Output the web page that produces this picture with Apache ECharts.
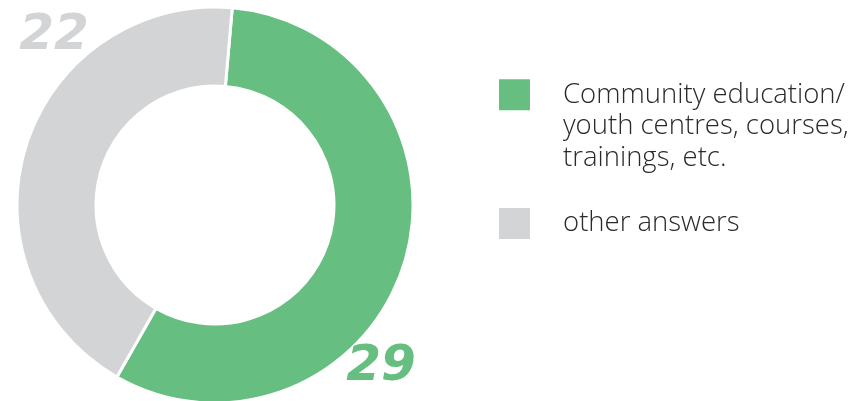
<!DOCTYPE html>
<html>
<head>
<meta charset="utf-8">
<script src="https://cdn.jsdelivr.net/npm/echarts@6/dist/echarts.min.js"></script>
<style>
html,body{margin:0;padding:0;background:#fff;}
#chart{width:857px;height:401px;}
</style>
</head>
<body>
<div id="chart"></div>
<script>
const categories = ['Community education/\nyouth centres, courses,\ntrainings, etc.', 'other answers'];
const values = [29, 22];
const colors = ['#66bf80', '#d3d4d6'];
const labelSpots = [[381, 367], [54, 36]];

const chart = echarts.init(document.getElementById('chart'), null, {renderer: 'canvas'});
const legendFont = 'Open Sans';
const legendIcon = 'path://M0,0H33V33H0Z M60,33';
const legendText = {fontFamily: legendFont, fontSize: 27.5, fontWeight: 300, color: '#2a2a2a', lineHeight: 31.5};
chart.setOption({
  animation: false,
  color: colors,
  legend: [
    {
      left: 497, top: 16, padding: 0, itemWidth: 60, itemHeight: 33,
      icon: legendIcon, selectedMode: false,
      formatter: n => '\n\n' + n,
      data: [categories[0]],
      textStyle: legendText
    },
    {
      left: 497, top: 206, padding: 0, itemWidth: 60, itemHeight: 33,
      icon: legendIcon, selectedMode: false,
      data: [categories[1]],
      textStyle: legendText
    }
  ],
  series: [{
    type: 'pie',
    center: [215, 205],
    radius: [119, 198],
    startAngle: 85,
    clockwise: true,
    silent: true,
    avoidLabelOverlap: false,
    itemStyle: {borderColor: '#fff', borderWidth: 3},
    label: {
      show: true,
      position: 'inside',
      formatter: '{c}',
      fontFamily: 'DejaVu Sans',
      fontStyle: 'italic',
      fontWeight: 'bold',
      fontSize: 50
    },
    labelLine: {show: false},
    labelLayout: function (p) {
      const s = labelSpots[p.dataIndex];
      return {x: s[0], y: s[1], align: 'center', verticalAlign: 'middle'};
    },
    data: categories.map((c, i) => ({
      name: c, value: values[i],
      itemStyle: {color: colors[i]},
      label: {color: colors[i]}
    }))
  }]
});
</script>
</body>
</html>
